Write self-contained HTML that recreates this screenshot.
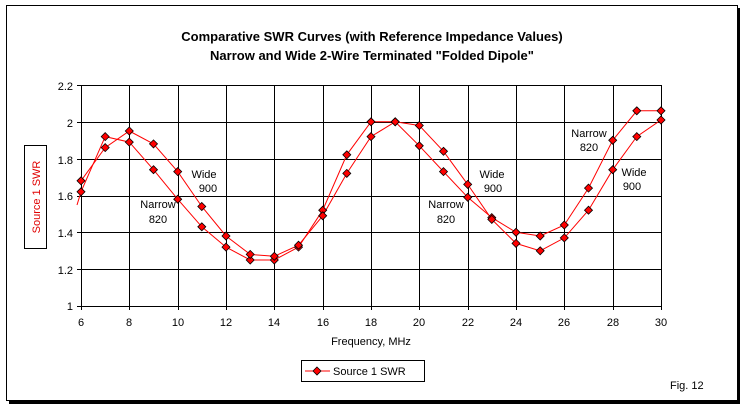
<!DOCTYPE html>
<html><head><style>
body{margin:0;background:#fff;}
svg text{font-family:"Liberation Sans",Arial,sans-serif;font-size:11px;fill:#000;}
</style></head><body>
<svg width="744" height="407" xmlns="http://www.w3.org/2000/svg" xmlns:xlink="http://www.w3.org/1999/xlink">
<defs><path id="d" d="M0,-4 L4,0 L0,4 L-4,0 Z" fill="#f00" stroke="#000" stroke-width="0.8"/></defs>
<rect x="0" y="0" width="744" height="407" fill="#fff"/>
<rect x="6.5" y="5.5" width="731" height="395" fill="none" stroke="#000" stroke-width="1"/>
<rect x="737" y="8" width="3" height="396" fill="#000"/>
<rect x="9" y="400" width="731" height="4" fill="#000"/>
<text x="372" y="41" text-anchor="middle" style="font-size:13px;font-weight:bold">Comparative SWR Curves (with Reference Impedance Values)</text>
<text x="372" y="60" text-anchor="middle" style="font-size:13px;font-weight:bold">Narrow and Wide 2-Wire Terminated "Folded Dipole"</text>
<g stroke="#000" stroke-width="1">
<line x1="81" y1="85.5" x2="661" y2="85.5"/>
<line x1="81" y1="122.5" x2="661" y2="122.5"/>
<line x1="81" y1="159.5" x2="661" y2="159.5"/>
<line x1="81" y1="196.5" x2="661" y2="196.5"/>
<line x1="81" y1="232.5" x2="661" y2="232.5"/>
<line x1="81" y1="269.5" x2="661" y2="269.5"/>
<line x1="81" y1="306.5" x2="661" y2="306.5"/>
<line x1="81.5" y1="85" x2="81.5" y2="310"/>
<line x1="129.5" y1="85" x2="129.5" y2="310"/>
<line x1="178.5" y1="85" x2="178.5" y2="310"/>
<line x1="226.5" y1="85" x2="226.5" y2="310"/>
<line x1="274.5" y1="85" x2="274.5" y2="310"/>
<line x1="323.5" y1="85" x2="323.5" y2="310"/>
<line x1="371.5" y1="85" x2="371.5" y2="310"/>
<line x1="419.5" y1="85" x2="419.5" y2="310"/>
<line x1="468.5" y1="85" x2="468.5" y2="310"/>
<line x1="516.5" y1="85" x2="516.5" y2="310"/>
<line x1="564.5" y1="85" x2="564.5" y2="310"/>
<line x1="613.5" y1="85" x2="613.5" y2="310"/>
<line x1="661.5" y1="85" x2="661.5" y2="310"/>
<line x1="77" y1="85.5" x2="81" y2="85.5"/><line x1="77" y1="122.5" x2="81" y2="122.5"/><line x1="77" y1="159.5" x2="81" y2="159.5"/><line x1="77" y1="196.5" x2="81" y2="196.5"/><line x1="77" y1="232.5" x2="81" y2="232.5"/><line x1="77" y1="269.5" x2="81" y2="269.5"/><line x1="77" y1="306.5" x2="81" y2="306.5"/>
</g>
<g text-anchor="end">
<text x="73" y="90">2.2</text><text x="73" y="127">2</text><text x="73" y="164">1.8</text><text x="73" y="200">1.6</text><text x="73" y="237">1.4</text><text x="73" y="274">1.2</text><text x="73" y="310">1</text>
</g>
<g text-anchor="middle">
<text x="81" y="326">6</text><text x="129" y="326">8</text><text x="178" y="326">10</text><text x="226" y="326">12</text><text x="274" y="326">14</text><text x="323" y="326">16</text><text x="371" y="326">18</text><text x="419" y="326">20</text><text x="468" y="326">22</text><text x="516" y="326">24</text><text x="564" y="326">26</text><text x="613" y="326">28</text><text x="661" y="326">30</text>
<text x="371" y="345">Frequency, MHz</text>
</g>
<rect x="24.5" y="145.5" width="22" height="103" fill="#fff" stroke="#000"/>
<text transform="translate(40,197) rotate(-90)" text-anchor="middle" style="fill:#e00000">Source 1 SWR</text>
<g fill="none" stroke="#ff0000" stroke-width="1">
<polyline points="77,205 81,191.8 105.2,136.6 129.3,142.1 153.5,169.7 177.7,199.2 201.8,226.8 226,247.1 250.2,260 274.3,260 298.5,247.1 322.7,210.2 346.8,154.8 371,121.8 395.2,121.8 419.3,145.8 443.5,171.6 467.7,197.3 491.8,217.6 516,232.3 540.2,236 564.3,225 588.5,188.1 612.7,140.3 636.8,110.8 661,110.8"/>
<polyline points="81,180.8 105.2,147.6 129.3,131 153.5,143.9 177.7,171.6 201.8,206.5 226,236 250.2,254.4 274.3,256.3 298.5,245.2 322.7,215.8 346.8,173.4 371,136.6 395.2,121.8 419.3,125.5 443.5,151.3 467.7,184.4 491.8,219.4 516,243.4 540.2,250.8 564.3,237.9 588.5,210.2 612.7,169.7 636.8,136.6 661,120"/>
</g>
<g>
<use xlink:href="#d" x="81" y="191.8"/><use xlink:href="#d" x="105.2" y="136.6"/><use xlink:href="#d" x="129.3" y="142.1"/><use xlink:href="#d" x="153.5" y="169.7"/><use xlink:href="#d" x="177.7" y="199.2"/><use xlink:href="#d" x="201.8" y="226.8"/><use xlink:href="#d" x="226" y="247.1"/><use xlink:href="#d" x="250.2" y="260"/><use xlink:href="#d" x="274.3" y="260"/><use xlink:href="#d" x="298.5" y="247.1"/><use xlink:href="#d" x="322.7" y="210.2"/><use xlink:href="#d" x="346.8" y="154.8"/><use xlink:href="#d" x="371" y="121.8"/><use xlink:href="#d" x="395.2" y="121.8"/><use xlink:href="#d" x="419.3" y="145.8"/><use xlink:href="#d" x="443.5" y="171.6"/><use xlink:href="#d" x="467.7" y="197.3"/><use xlink:href="#d" x="491.8" y="217.6"/><use xlink:href="#d" x="516" y="232.3"/><use xlink:href="#d" x="540.2" y="236"/><use xlink:href="#d" x="564.3" y="225"/><use xlink:href="#d" x="588.5" y="188.1"/><use xlink:href="#d" x="612.7" y="140.3"/><use xlink:href="#d" x="636.8" y="110.8"/><use xlink:href="#d" x="661" y="110.8"/>
<use xlink:href="#d" x="81" y="180.8"/><use xlink:href="#d" x="105.2" y="147.6"/><use xlink:href="#d" x="129.3" y="131"/><use xlink:href="#d" x="153.5" y="143.9"/><use xlink:href="#d" x="177.7" y="171.6"/><use xlink:href="#d" x="201.8" y="206.5"/><use xlink:href="#d" x="226" y="236"/><use xlink:href="#d" x="250.2" y="254.4"/><use xlink:href="#d" x="274.3" y="256.3"/><use xlink:href="#d" x="298.5" y="245.2"/><use xlink:href="#d" x="322.7" y="215.8"/><use xlink:href="#d" x="346.8" y="173.4"/><use xlink:href="#d" x="371" y="136.6"/><use xlink:href="#d" x="395.2" y="121.8"/><use xlink:href="#d" x="419.3" y="125.5"/><use xlink:href="#d" x="443.5" y="151.3"/><use xlink:href="#d" x="467.7" y="184.4"/><use xlink:href="#d" x="491.8" y="219.4"/><use xlink:href="#d" x="516" y="243.4"/><use xlink:href="#d" x="540.2" y="250.8"/><use xlink:href="#d" x="564.3" y="237.9"/><use xlink:href="#d" x="588.5" y="210.2"/><use xlink:href="#d" x="612.7" y="169.7"/><use xlink:href="#d" x="636.8" y="136.6"/><use xlink:href="#d" x="661" y="120"/>
</g>
<g text-anchor="middle">
<text x="204" y="178">Wide</text><text x="208" y="192">900</text>
<text x="158" y="208">Narrow</text><text x="158" y="223">820</text>
<text x="492" y="178">Wide</text><text x="493" y="192">900</text>
<text x="446" y="208">Narrow</text><text x="446" y="223">820</text>
<text x="589" y="137">Narrow</text><text x="589" y="151">820</text>
<text x="634" y="176">Wide</text><text x="632" y="190">900</text>
</g>
<rect x="301.5" y="360.5" width="123" height="21" fill="#fff" stroke="#000"/>
<line x1="305" y1="371" x2="330" y2="371" stroke="#f00"/>
<use xlink:href="#d" x="317" y="371"/>
<text x="333" y="375">Source 1 SWR</text>
<text x="670" y="389">Fig. 12</text>
</svg>
</body></html>
